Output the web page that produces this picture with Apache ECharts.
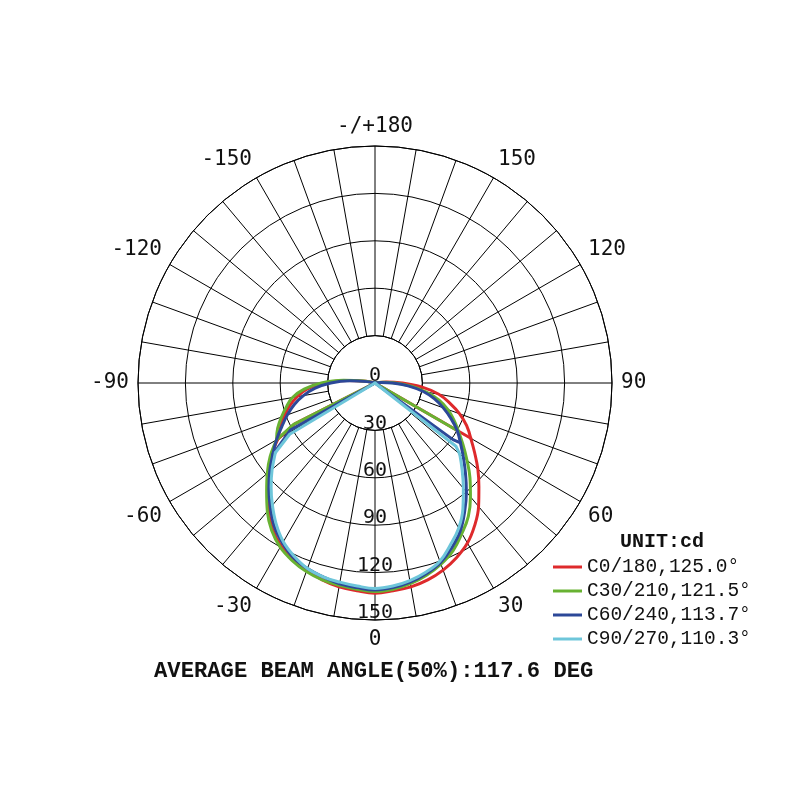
<!DOCTYPE html>
<html>
<head>
<meta charset="utf-8">
<script src="https://cdn.jsdelivr.net/npm/echarts@6/dist/echarts.min.js"></script>
<style>html,body{margin:0;padding:0;background:#fff}#c{width:800px;height:800px}</style>
</head>
<body>
<div id="c"></div>
<script>
// gamma steps (degrees from nadir) for each half-plane
const gammaSteps = [0,5,10,15,20,25,30,35,40,45,50,55,60,65,70,75,80,85,90,95,100];
// intensities (cd) — right half (C0/C30/C60/C90) and left half (C180/C210/C240/C270)
const redRight   = [133,132,131,129,126,122,117,110,102,93,85,77,70,64,57,49,41,30,17,7,1];
const redLeft    = [133,132,131,129,126,123,119,113,105,96,88,80,71,66,61,56,50,43,32,18,6];
const greenRight = [132,131,129,126,122,117,110,103,94,85,76,68,61,55,49,42,33,23,13,5,1];
const greenLeft  = [132,131,130,129,127,124,120,114,106,97,89,81,72,68,63,58,53,45,34,20,7];
const blueRight  = [131,130,128,125,121,115,108,99,90,81,73,66,60,53,46,39,31,21,11,4,1];
const blueLeft   = [131,130,129,127,125,122,117,111,103,95,87,79,72,65,59,53,46,38,28,16,5];
const cyanRight  = [130,129,127,124,120,113,106,97,87,78,70];
const cyanLeft   = [130,129,128,127,125,121,116,109,101,93,85,77];
// junction gammas and notch points [cd, gamma]
const junctionRight = [60, 60, 55, 50];
const junctionLeft  = [60, 60, 55, 55];
const notchRight = [[63, 60], [61, 60], [61, 54], [65, 52]];
const notchLeft  = [[57, -63], [58, -63], [61, -61], [63, -59]];
const seriesNames = ['C0/180,125.0°', 'C30/210,121.5°', 'C60/240,113.7°', 'C90/270,110.3°'];
const seriesColors = ['#de2a2c', '#68b232', '#2c4898', '#6ec6da'];
const radialTicks = [0, 30, 60, 90, 120, 150];
const angleLabelStep = 30;
const unitText = 'UNIT:cd';
const beamText = 'AVERAGE BEAM ANGLE(50%):117.6 DEG';

function pt(g, v) { return [v, g < 0 ? g + 360 : g]; }
const center = [0, 0];

function pieces(right, left, jR, jL, nR, nL) {
  const iR = gammaSteps.indexOf(jR);
  const iL = gammaSteps.indexOf(jL);
  const out = [];
  const lower = [];
  for (let i = iR; i >= 0; i--) lower.push(pt(gammaSteps[i], right[i]));
  for (let i = 1; i <= iL; i++) lower.push(pt(-gammaSteps[i], left[i]));
  out.push({ data: lower, smooth: 0.4 });
  if (right.length - 1 > iR) {
    const a = [];
    for (let i = iR; i < right.length; i++) a.push(pt(gammaSteps[i], right[i]));
    a.push(center);
    out.push({ data: a, smooth: 0.4 });
  }
  if (left.length - 1 > iL) {
    const a = [];
    for (let i = iL; i < left.length; i++) a.push(pt(-gammaSteps[i], left[i]));
    a.push(center);
    out.push({ data: a, smooth: 0.4 });
  }
  out.push({ data: [center, pt(nR[1], nR[0]), pt(jR, right[iR])], smooth: false });
  out.push({ data: [center, pt(nL[1], nL[0]), pt(-jL, left[iL])], smooth: false });
  return out;
}

const rights = [redRight, greenRight, blueRight, cyanRight];
const lefts = [redLeft, greenLeft, blueLeft, cyanLeft];

const series = [];
seriesNames.forEach((name, k) => {
  pieces(rights[k], lefts[k], junctionRight[k], junctionLeft[k], notchRight[k], notchLeft[k]).forEach(p => {
    series.push({
      name: name,
      type: 'line',
      coordinateSystem: 'polar',
      polarIndex: 1,
      data: p.data,
      smooth: p.smooth,
      showSymbol: false,
      symbol: 'none',
      lineStyle: { width: 3, color: seriesColors[k], join: 'round', cap: 'round' },
      itemStyle: { color: seriesColors[k] },
      z: 2 + k
    });
  });
});

const chart = echarts.init(document.getElementById('c'), null, { renderer: 'canvas' });
chart.setOption({
  animation: false,
  backgroundColor: '#ffffff',
  title: [
    { text: unitText, left: 620, top: 532, padding: 0,
      textStyle: { fontFamily: 'Liberation Mono', fontWeight: 'bold', fontSize: 20, color: '#111' } },
    { text: beamText, left: 154, top: 660, padding: 0,
      textStyle: { fontFamily: 'Liberation Mono', fontWeight: 'bold', fontSize: 22.2, color: '#111' } }
  ],
  legend: {
    orient: 'vertical', left: 553, top: 557, padding: 0,
    itemWidth: 29, itemHeight: 3, itemGap: 4, icon: 'rect',
    textStyle: { fontFamily: 'Liberation Mono', fontSize: 19.5, color: '#111' },
    data: seriesNames
  },
  polar: [
    { center: [375, 383], radius: [47.4, 237] },
    { center: [375, 383], radius: [0, 237] }
  ],
  angleAxis: [
    { polarIndex: 0, type: 'value', min: 0, max: 360, interval: 10, startAngle: -90, clockwise: false,
      axisLine: { show: true, lineStyle: { color: '#000', width: 1 } },
      axisTick: { show: false }, axisLabel: { show: false },
      splitLine: { show: true, lineStyle: { color: '#000', width: 1 } } },
    { polarIndex: 1, type: 'value', min: 0, max: 360, interval: angleLabelStep, startAngle: -90, clockwise: false,
      axisLine: { show: false }, axisTick: { show: false }, splitLine: { show: false },
      axisLabel: { show: true, margin: 9, fontFamily: 'DejaVu Sans Mono', fontSize: 21, color: '#111',
        formatter: v => v === 180 ? '-/+180' : String(v > 180 ? v - 360 : v) } }
  ],
  radiusAxis: [
    { polarIndex: 0, type: 'value', min: radialTicks[1], max: radialTicks[radialTicks.length - 1], interval: 30,
      axisLine: { show: false }, axisTick: { show: false }, axisLabel: { show: false },
      splitLine: { show: true, lineStyle: { color: '#000', width: 1 } } },
    { polarIndex: 1, type: 'value', min: radialTicks[0], max: radialTicks[radialTicks.length - 1], interval: 30,
      axisLine: { show: false }, axisTick: { show: false }, splitLine: { show: false },
      axisLabel: { show: true, margin: 0, align: 'center', verticalAlign: 'bottom', lineHeight: 14,
        fontFamily: 'DejaVu Sans Mono', fontSize: 20, color: '#111' } }
  ],
  series: series
});
</script>
</body>
</html>
